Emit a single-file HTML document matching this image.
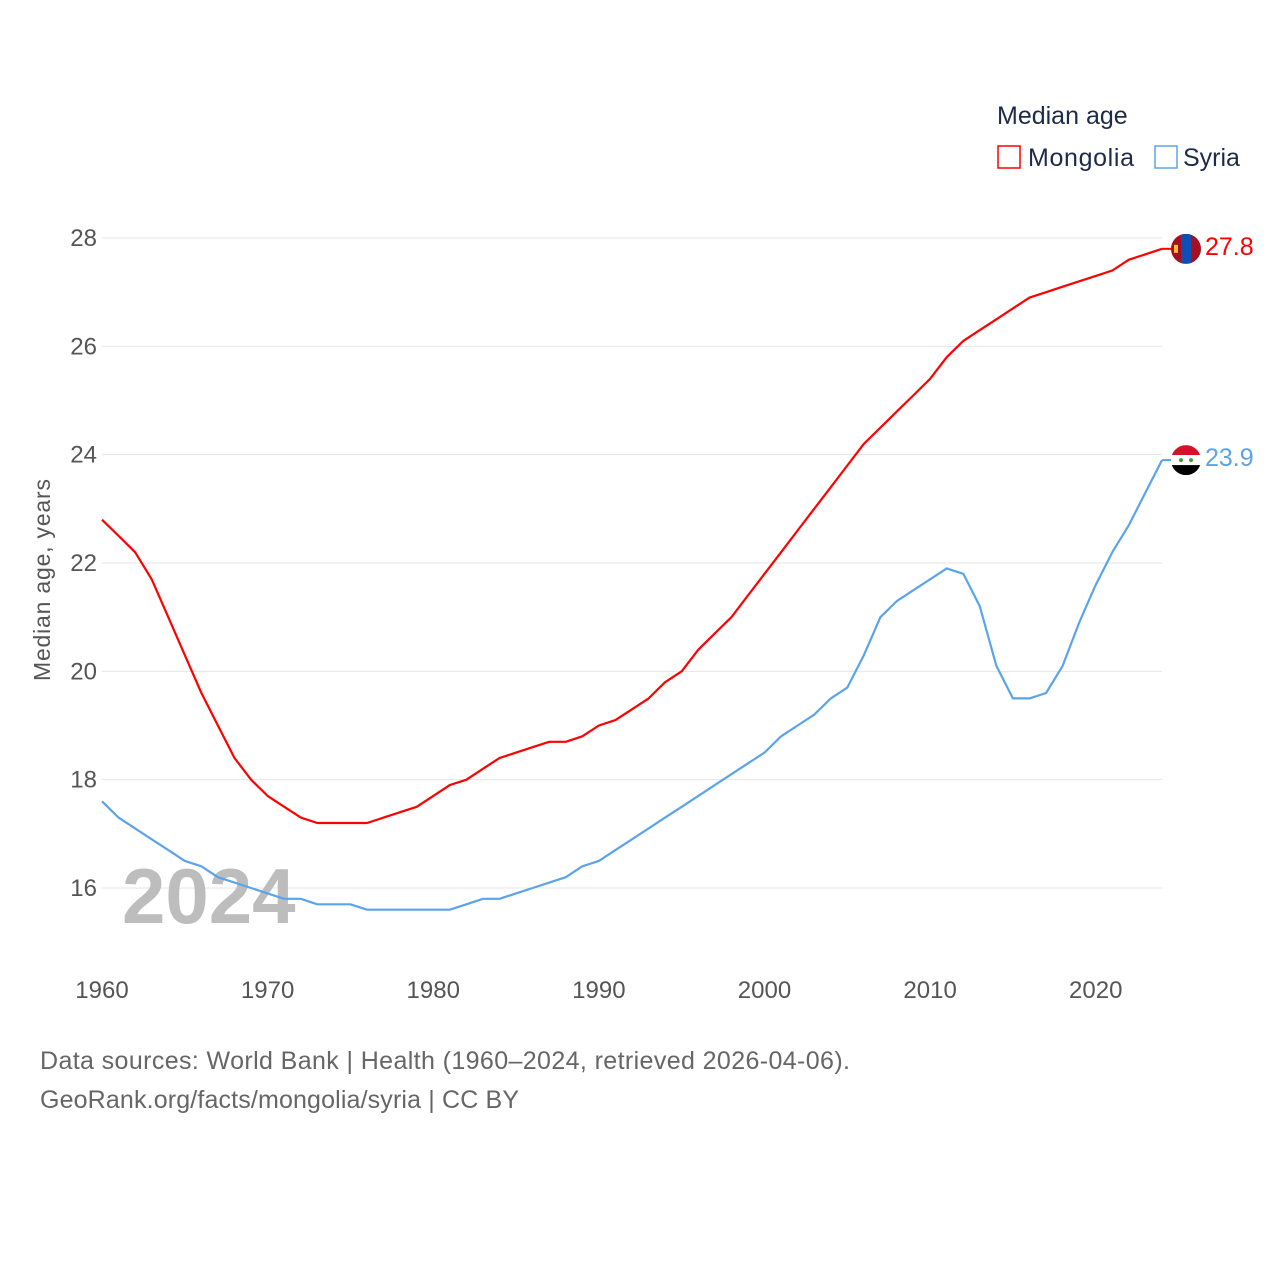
<!DOCTYPE html>
<html><head><meta charset="utf-8"><style>
body{margin:0;background:#fff;font-family:"Liberation Sans",sans-serif}
svg text{font-family:"Liberation Sans",sans-serif}
</style></head><body>
<svg id="chart" width="1280" height="1280" xmlns="http://www.w3.org/2000/svg">
<g id="grid"></g>
<g id="yticks"></g>
<g id="xticks"></g>
<text x="50" y="580" transform="rotate(-90 50 580)" text-anchor="middle" font-size="23" fill="#555" textLength="202">Median age, years</text>
<text x="122" y="923" font-size="78" font-weight="bold" fill="#bdbdbd">2024</text>
<g id="lines"></g>
<g>
<text x="997" y="124" font-size="25" fill="#1c2b4a">Median age</text>
<rect x="998" y="146" width="22" height="22" fill="none" stroke="#ff0000" stroke-width="1.5"/>
<text x="1028" y="166" font-size="25" fill="#1c2b4a" textLength="106">Mongolia</text>
<rect x="1155" y="146" width="22" height="22" fill="none" stroke="#5ba4ea" stroke-width="1.5"/>
<text x="1183" y="166" font-size="25" fill="#1c2b4a">Syria</text>
</g>
<g id="endmarks"></g>
<text x="40" y="1069" font-size="25" fill="#666" textLength="810">Data sources: World Bank | Health (1960–2024, retrieved 2026-04-06).</text>
<text x="40" y="1108" font-size="25" fill="#666" textLength="479">GeoRank.org/facts/mongolia/syria | CC BY</text>
</svg>
<script>
const years = Array.from({length:65},(_, i)=>1960+i);
const mongolia = [22.8,22.5,22.2,21.7,21.0,20.3,19.6,19.0,18.4,18.0,17.7,17.5,17.3,17.2,17.2,17.2,17.2,17.3,17.4,17.5,17.7,17.9,18.0,18.2,18.4,18.5,18.6,18.7,18.7,18.8,19.0,19.1,19.3,19.5,19.8,20.0,20.4,20.7,21.0,21.4,21.8,22.2,22.6,23.0,23.4,23.8,24.2,24.5,24.8,25.1,25.4,25.8,26.1,26.3,26.5,26.7,26.9,27.0,27.1,27.2,27.3,27.4,27.6,27.7,27.8];
const syria = [17.6,17.3,17.1,16.9,16.7,16.5,16.4,16.2,16.1,16.0,15.9,15.8,15.8,15.7,15.7,15.7,15.6,15.6,15.6,15.6,15.6,15.6,15.7,15.8,15.8,15.9,16.0,16.1,16.2,16.4,16.5,16.7,16.9,17.1,17.3,17.5,17.7,17.9,18.1,18.3,18.5,18.8,19.0,19.2,19.5,19.7,20.3,21.0,21.3,21.5,21.7,21.9,21.8,21.2,20.1,19.5,19.5,19.6,20.1,20.9,21.6,22.2,22.7,23.3,23.9];
const yTicks = [16,18,20,22,24,26,28];
const xTicks = [1960,1970,1980,1990,2000,2010,2020];
const NS="http://www.w3.org/2000/svg";
const X = y => 102 + (y-1960)*(1162-102)/64;
const Y = v => 888 - (v-16)*(888-238)/12;
function mk(tag, attrs, parent){const e=document.createElementNS(NS,tag);for(const k in attrs)e.setAttribute(k,attrs[k]);document.getElementById(parent).appendChild(e);return e;}
yTicks.forEach(t=>{
  const l=mk('line',{x1:102,x2:1162,y1:Y(t),y2:Y(t),stroke:'#e6e6e6','stroke-width':1},'grid');
  
  
  const tx=mk('text',{x:97,y:Y(t)+8,'text-anchor':'end','font-size':24,fill:'#555'},'yticks');
  tx.textContent=t;
  
  
});
xTicks.forEach(t=>{
  const tx=mk('text',{x:X(t),y:998,'text-anchor':'middle','font-size':24,fill:'#555'},'xticks');
  tx.textContent=t;
  
  
});
function line(data,color,name){
  const d=data.map((v,i)=>(i?'L':'M')+X(years[i]).toFixed(1)+','+Y(v).toFixed(1)).join(' ');
  const p=mk('path',{d:d,fill:'none',stroke:color,'stroke-width':2.2,'stroke-linejoin':'round'},'lines');
  
  
}
line(mongolia,'#ff0000','line-mongolia');
line(syria,'#5ba4ea','line-syria');
function endmark(data,color,name,flag){
  const v=data[data.length-1], y=Y(v), cx=1186;
  const g=mk('g',{},'endmarks');
  
  
  g.innerHTML = `<line x1="${X(2024)}" x2="${cx-14}" y1="${y}" y2="${y}" stroke="${color}" stroke-width="2"/>` + flag(cx,y) +
    `<text x="1205" y="${y+6}" font-size="25" fill="${color}">${v.toFixed(1)}</text>`;
}
endmark(mongolia,'#ff0000','mongolia',(cx,y)=>`<clipPath id="cm"><circle cx="${cx}" cy="${y}" r="15"/></clipPath><g clip-path="url(#cm)"><rect x="${cx-15}" y="${y-15}" width="30" height="30" fill="#a50f1f"/><rect x="${cx-5}" y="${y-15}" width="10" height="30" fill="#0f4fb5"/><rect x="${cx-12}" y="${y-4}" width="4" height="8" fill="#f4c430"/></g>`);
endmark(syria,'#5ba4ea','syria',(cx,y)=>`<clipPath id="cs"><circle cx="${cx}" cy="${y}" r="15"/></clipPath><g clip-path="url(#cs)"><rect x="${cx-15}" y="${y-15}" width="30" height="10" fill="#d7102a"/><rect x="${cx-15}" y="${y-5}" width="30" height="10" fill="#fff"/><rect x="${cx-15}" y="${y+5}" width="30" height="10" fill="#000"/><circle cx="${cx-5}" cy="${y}" r="2" fill="#4a9a3a"/><circle cx="${cx+5}" cy="${y}" r="2" fill="#4a9a3a"/></g>`);
</script>
</body></html>
